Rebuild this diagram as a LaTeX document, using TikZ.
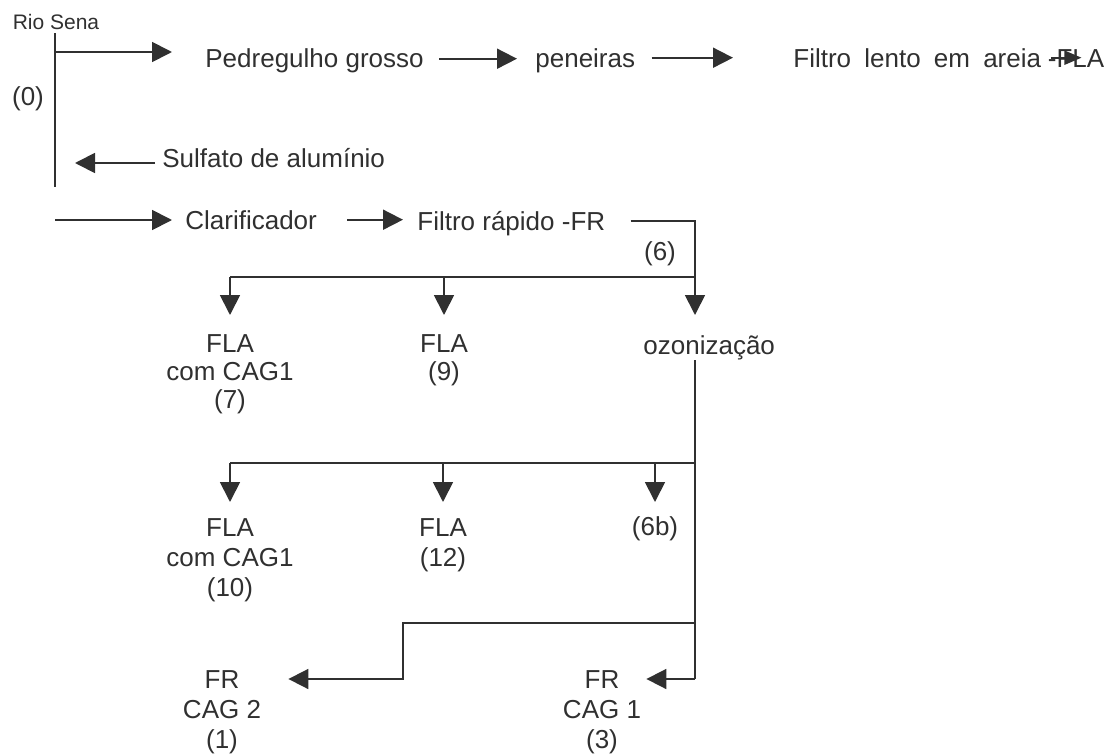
\documentclass[tikz,border=0pt]{standalone}
\usepackage{fontspec}
\setmainfont{Liberation Sans}
\usetikzlibrary{arrows.meta,positioning}
\definecolor{ink}{HTML}{303030}
\tikzset{
  pipe/.style={line width=0.9pt, draw=ink},
  flow/.style={pipe, -{Triangle[length=10pt,width=10pt]}},
  tag/.style={inner sep=0pt, text=ink, font=\fontsize{13}{15}\selectfont,
    text height=9.3pt, text depth=0pt, anchor=base west},
  unit/.style={inner sep=0pt, text=ink, font=\fontsize{13}{15}\selectfont,
    align=center, anchor=north},
}
\begin{document}
\begin{tikzpicture}[x=0.5pt, y=-0.5pt]
	\useasboundingbox (0,0) rectangle (1120,755);
	
	% captacao
	\node[tag, anchor=base, font=\fontsize{10.5}{12}\selectfont, text height=7.5pt] (rio) at (56,30) {Rio Sena};
	\node[tag, anchor=base] (p0) at (28,105) {(0)};
	\coordinate (r0) at (55,33);
	\coordinate (r1) at (55,187);
	\coordinate (a1) at (55,52);
	\coordinate (s0) at (55,163);
	\draw[pipe] (r0) -- (r1);
	
	% linha de cima
	\node[tag] (ped) at (205,68) {Pedregulho grosso};
	\node[tag] (pen) at (535,67) {peneiras};
	\node[tag] (fle) at (793,67) {\spaceskip=6.6pt Filtro lento em areia};
	\node[tag, right=3pt of fle] (fla) {-FLA};
	
	\draw[flow, shorten >=16.5pt] (a1) -- (a1 -| ped.west);
	\draw[flow, shorten <=7.5pt, shorten >=9pt] (ped.east) -- (ped.east -| pen.west);
	\draw[flow, shorten <=8pt, shorten >=30pt] (pen.east) -- (pen.east -| fle.west);
	\draw[pipe, -{Triangle[length=8.5pt,width=7pt]}, shorten <=2pt] (fla.west) -- ([xshift=17pt]fla.west);
	
	% sulfato
	\node[tag] (sulf) at (162,167) {Sulfato de alumínio};
	\draw[flow, shorten <=3.5pt, shorten >=10pt] (sulf.west |- s0) -- (s0);
	
	% clarificacao
	\coordinate (a2) at (55,220);
	\node[tag] (clar) at (185,229) {Clarificador};
	\node[tag] (frap) at (417,230) {Filtro rápido -FR};
	\draw[flow, shorten >=6.5pt] (a2) -- (a2 -| clar.west);
	\draw[flow, shorten <=15pt, shorten >=7pt] (clar.east) -- (clar.east -| frap.west);
	\coordinate (k1) at (695,277);
	\draw[pipe, shorten <=12.5pt] (frap.east) -| (k1);
	\node[tag, anchor=base] (p6) at (660,260) {(6)};
	
	% ramal 1
	\node[unit, font=\fontsize{13}{14}\selectfont] (fla7) at (230,334) {FLA\\com CAG1\\(7)};
	\node[unit, font=\fontsize{13}{14}\selectfont] (fla9) at (444,334) {FLA\\(9)};
	\node[tag] (ozo) at (643,354) {ozonização};
	\draw[pipe] (k1) -- (k1 -| fla7.north);
	\draw[flow, shorten >=9.5pt] (k1 -| fla7.north) -- (fla7.north);
	\draw[flow, shorten >=9.5pt] (k1 -| fla9.north) -- (fla9.north);
	\draw[flow, shorten >=10pt] (k1) -- (k1 |- ozo.north);
	
	% ramal 2
	\coordinate (o1) at (695,360);
	\coordinate (k2) at (695,463);
	\coordinate (k3) at (695,623);
	\coordinate (k4) at (695,679);
	\draw[pipe] (o1) -- (k4);
	\node[unit] (fla10) at (230,518) {FLA\\com CAG1\\(10)};
	\node[unit] (fla12) at (443,518) {FLA\\(12)};
	\node[tag, anchor=base] (p6b) at (655,535) {(6b)};
	\draw[pipe] (k2) -- (k2 -| fla10.north);
	\draw[flow, shorten >=8pt] (k2 -| fla10.north) -- (fla10.north);
	\draw[flow, shorten >=8pt] (k2 -| fla12.north) -- (fla12.north);
	\draw[flow, shorten >=7pt] (k2 -| p6b.north) -- (p6b.north);
	
	% ramal 3
	\node[unit] (cag2) at (222,670) {FR\\CAG 2\\(1)};
	\node[unit] (cag1) at (602,670) {FR\\CAG 1\\(3)};
	\coordinate (s1) at (403,623);
	\coordinate (s2) at (403,679);
	\draw[flow, shorten >=13.5pt] (k3) -- (s1) -- (s2) -- (s2 -| cag2.east);
	\draw[flow, shorten >=2.5pt] (k4) -- (k4 -| cag1.east);
	
\end{tikzpicture}
\end{document}
